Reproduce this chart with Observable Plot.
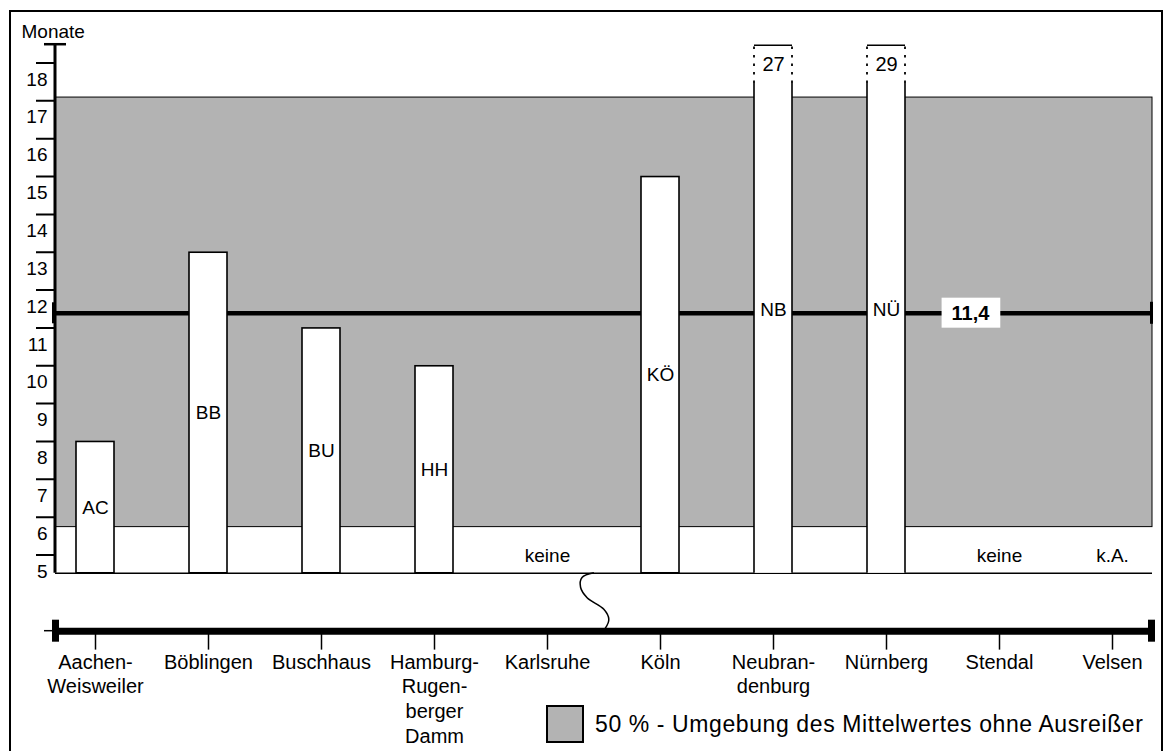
<!DOCTYPE html>
<html>
<head>
<meta charset="utf-8">
<script src="https://cdn.jsdelivr.net/npm/d3@7"></script>
<script src="https://cdn.jsdelivr.net/npm/@observablehq/plot@0.6"></script>
<style>
  html, body { margin: 0; padding: 0; background: #fff; }
  body { font-family: "Liberation Sans", Arial, Helvetica, sans-serif; color: #000; }
  #wrap { position: relative; width: 1166px; height: 751px; overflow: hidden; background: #fff; }
  #chart { position: absolute; left: 0; top: 0; width: 1166px; height: 751px; }
  #frame { position: absolute; left: 9px; top: 10px; width: 1154px; height: 800px; border: 2px solid #000; box-sizing: border-box; pointer-events: none; z-index: 5; }
  #legend { position: absolute; left: 546px; top: 705px; display: flex; align-items: center; z-index: 6; }
  #legend .swatch { width: 38px; height: 38px; box-sizing: border-box; border: 2px solid #000; background: #b3b3b3; }
  #legend .label { margin-left: 11px; font-size: 23px; letter-spacing: 0.6px; white-space: nowrap; }
</style>
</head>
<body>
<div id="wrap">
  <div id="chart"></div>
  <div id="frame"></div>
  <div id="legend"><span class="swatch"></span><span class="label" id="legendText"></span></div>
</div>
<script>
// ---------- data ----------
const categories = ["Aachen-Weisweiler", "Böblingen", "Buschhaus", "Hamburg-Rugenberger Damm", "Karlsruhe", "Köln", "Neubrandenburg", "Nürnberg", "Stendal", "Velsen"];
const tickLabels = ["Aachen-\nWeisweiler", "Böblingen", "Buschhaus", "Hamburg-\nRugen-\nberger\nDamm", "Karlsruhe", "Köln", "Neubran-\ndenburg", "Nürnberg", "Stendal", "Velsen"];
const codes = ["AC", "BB", "BU", "HH", "", "KÖ", "NB", "NÜ", "", ""];
const months = [8, 13, 11, 10, null, 15, 27, 29, null, null];
const notes = ["", "", "", "", "keine", "", "", "", "keine", "k.A."];
const meanMonths = 11.4;
const meanLabel = "11,4";
const meanLabelAt = "Stendal";
const bandRange = [5.75, 17.1];
const yTicks = [5, 6, 7, 8, 9, 10, 11, 12, 13, 14, 15, 16, 17, 18];
const yTitle = "Monate";
const legendText = "50 % - Umgebung des Mittelwertes ohne Ausreißer";
// axis geometry (month units)
const axisFloor = 4.53;   // bottom of the visible month axis
const axisCeil = 18.47;   // top of the visible month axis (bars cut here)
const cutAt = 17.47;      // where cut bars become dotted
const breakLevel = 3;     // lower (broken) category axis
const tickDepth = 0.5;
// break symbol: [offset in band steps from gap centre, fraction from floor (0) to break axis (1)]
const breakShape = [[-0.085, 0.0], [-0.19, 0.08], [-0.203, 0.25], [-0.145, 0.43], [0.003, 0.63], [0.047, 0.8], [0.018, 0.95], [-0.026, 1.03]];

// ---------- layout ----------
const W = 1166, H = 751;
const M = {top: 63, right: 14, bottom: 196, left: 55};
const FONT = '"Liberation Sans", Arial, Helvetica, sans-serif';

const rows = categories.map((name, i) => ({name, label: tickLabels[i], code: codes[i], months: months[i], note: notes[i]}));
const bars = rows.filter(d => d.months != null);
const fullBars = bars.filter(d => d.months <= axisCeil);
const cutBars = bars.filter(d => d.months > axisCeil);
const noteRows = rows.filter(d => d.note);

const plot = Plot.plot({
  width: W, height: H,
  marginTop: M.top, marginRight: M.right, marginBottom: M.bottom, marginLeft: M.left,
  x: {type: "band", domain: categories, paddingInner: 0.665, paddingOuter: 0.161, align: 0.5, axis: null},
  y: {domain: [5, 18], axis: null},
  style: {fontFamily: FONT, fontSize: "19px", color: "#000", background: "transparent", overflow: "visible"},
  marks: [
    Plot.rect([0], {y1: bandRange[0], y2: bandRange[1], fill: "#b3b3b3", stroke: "#000", strokeWidth: 1}),
    Plot.ruleY([axisFloor], {stroke: "#000", strokeWidth: 1.5}),
    Plot.ruleY([meanMonths], {stroke: "#000", strokeWidth: 4.5}),
    Plot.barY(bars, {x: "name", y1: axisFloor, y2: d => Math.min(d.months, axisCeil), fill: "#fff"}),
    Plot.barY(fullBars, {x: "name", y1: axisFloor, y2: "months", fill: "none", stroke: "#000", strokeWidth: 1.6}),
    Plot.text(bars, {x: "name", y: d => (axisFloor + Math.min(d.months, axisCeil)) / 2, text: "code", fontSize: 19}),
    Plot.text(cutBars, {x: "name", y: (cutAt + axisCeil) / 2, text: d => String(d.months), fontSize: 20}),
    Plot.text(noteRows, {x: "name", y: 5, text: "note", fontSize: 19}),
    Plot.text([meanLabel], {x: () => meanLabelAt, y: meanMonths, text: d => d, dx: -29, fontWeight: "bold", fontSize: 20}),
    Plot.text(yTicks, {y: d => d, frameAnchor: "left", textAnchor: "end", dx: -8, dy: 16, text: d => String(d), fontSize: 19}),
    Plot.text([yTitle], {frameAnchor: "top-left", textAnchor: "start", lineAnchor: "middle", dx: -34, dy: -32, text: d => d, fontSize: 19}),
    Plot.ruleY([breakLevel], {stroke: "#000", strokeWidth: 7}),
    Plot.ruleX(rows, {x: "name", y1: breakLevel, y2: breakLevel - tickDepth, stroke: "#000", strokeWidth: 1.5}),
    Plot.text(rows, {x: "name", y: breakLevel, text: "label", lineAnchor: "top", dy: 20, lineHeight: 1.235, fontSize: 20})
  ]
});

document.getElementById("chart").appendChild(plot);
document.getElementById("legendText").textContent = legendText;

// ---------- decorations drawn through the plot's own scales ----------
const svg = d3.select(plot);
const X = plot.scale("x"), Y = plot.scale("y");
const bw = X.bandwidth, step = X.step;
const bx = name => X.apply(name);
const cx = name => X.apply(name) + bw / 2;
const left = M.left, right = W - M.right;
const g = svg.append("g").attr("stroke", "#000").attr("fill", "none");

// white box behind mean label
svg.selectAll("text").filter(function() { return this.textContent === meanLabel; }).each(function() {
  const b = this.getBBox();
  const r = document.createElementNS("http://www.w3.org/2000/svg", "rect");
  r.setAttribute("x", b.x + b.width / 2 - (b.width + 20) / 2);
  r.setAttribute("y", b.y + b.height / 2 - 15);
  r.setAttribute("width", b.width + 20);
  r.setAttribute("height", 30);
  r.setAttribute("fill", "#fff");
  r.setAttribute("stroke", "none");
  const t = this.getAttribute("transform");
  if (t) r.setAttribute("transform", t);
  this.parentNode.insertBefore(r, this);
});

// cut bars: solid lower sides, dotted upper sides, solid top
for (const d of cutBars) {
  const x0 = bx(d.name), x1 = x0 + bw;
  for (const xx of [x0, x1]) {
    g.append("line").attr("x1", xx).attr("x2", xx).attr("y1", Y.apply(axisFloor)).attr("y2", Y.apply(cutAt)).attr("stroke-width", 1.6);
    g.append("line").attr("x1", xx).attr("x2", xx).attr("y1", Y.apply(cutAt)).attr("y2", Y.apply(axisCeil)).attr("stroke-width", 1.8).attr("stroke-dasharray", "2.5,6");
  }
  g.append("line").attr("x1", x0).attr("x2", x1).attr("y1", Y.apply(axisCeil)).attr("y2", Y.apply(axisCeil)).attr("stroke-width", 1.6);
}

// y axis line and top cap
const yTop = Y.apply(axisCeil) - 1;
g.append("line").attr("x1", left).attr("x2", left).attr("y1", Y.apply(axisFloor)).attr("y2", yTop).attr("stroke-width", 3);
g.append("line").attr("x1", left - 11).attr("x2", left + 11).attr("y1", yTop).attr("y2", yTop).attr("stroke-width", 2.5);

// mean line end caps
const ym = Y.apply(meanMonths);
g.append("rect").attr("x", left - 3).attr("y", ym - 10.5).attr("width", 3).attr("height", 21).attr("fill", "#000").attr("stroke", "none");
g.append("rect").attr("x", right - 2).attr("y", ym - 11).attr("width", 3).attr("height", 22).attr("fill", "#000").attr("stroke", "none");

// broken axis end caps
const yb = Y.apply(breakLevel);
g.append("rect").attr("x", left - 3).attr("y", yb - 11).attr("width", 7).attr("height", 22).attr("fill", "#000").attr("stroke", "none");
g.append("rect").attr("x", right - 4).attr("y", yb - 11).attr("width", 7).attr("height", 22).attr("fill", "#000").attr("stroke", "none");
g.append("line").attr("x1", left - 11).attr("x2", left - 3).attr("y1", yb).attr("y2", yb).attr("stroke-width", 1.5);

// break symbol between Karlsruhe and Köln
const gapX = (cx("Karlsruhe") + cx("Köln")) / 2;
const yF = Y.apply(axisFloor), yB = Y.apply(breakLevel);
const pts = breakShape.map(([sx, fy]) => [gapX + sx * step, yF + fy * (yB - yF)]);
g.append("path").attr("d", d3.line().curve(d3.curveCatmullRom)(pts)).attr("stroke-width", 1.5);

// y ticks, left of the axis line
const tickPath = yTicks.map(v => `M${left - 19},${Y.apply(v)}H${left}`).join("");
svg.append("path").attr("d", tickPath).attr("stroke", "#000").attr("stroke-width", 2).attr("fill", "none");
</script>
</body>
</html>
